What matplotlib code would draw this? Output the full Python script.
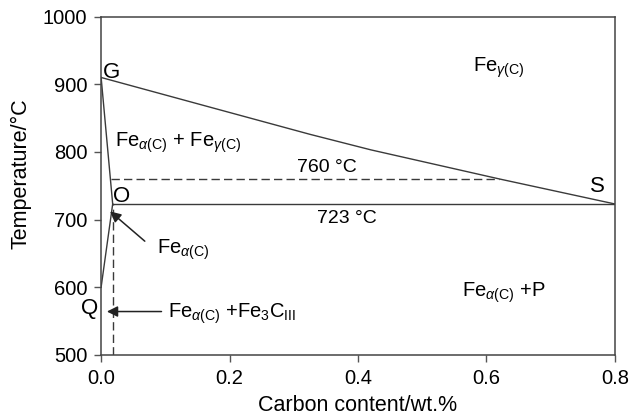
import matplotlib
matplotlib.use('Agg')
import matplotlib.pyplot as plt

# phase boundary points (carbon wt.%, temperature C)
gs_x = [0.0, 0.17, 0.325, 0.42, 0.62, 0.8]
gs_t = [910, 866, 826, 803, 760, 723]
go_x = [0.0, 0.018]
go_t = [910, 723]
oq_x = [0.018, 0.0]
oq_t = [723, 600]
eut_x = [0.018, 0.8]
eut_t = [723, 723]
a1_x = [0.016, 0.62]
a1_t = [760, 760]
sol_x = [0.018, 0.018]
sol_t = [500, 723]

xticks = [0.0, 0.2, 0.4, 0.6, 0.8]
xticklabels = ['0.0', '0.2', '0.4', '0.6', '0.8']
yticks = [500, 600, 700, 800, 900, 1000]

plt.rcParams['font.family'] = ['Liberation Sans', 'DejaVu Sans']
plt.rcParams['mathtext.fontset'] = 'custom'
plt.rcParams['mathtext.rm'] = 'Liberation Sans'
plt.rcParams['mathtext.it'] = 'Liberation Sans:italic'

line_col = '#3a3a3a'
fs = 14.5

fig = plt.figure(figsize=(6.32, 4.15), dpi=100)
ax = fig.add_axes([0.160, 0.145, 0.813, 0.815])

ax.plot(gs_x, gs_t, color=line_col, lw=1.0)
ax.plot(go_x, go_t, color=line_col, lw=1.0)
ax.plot(oq_x, oq_t, color=line_col, lw=1.0)
ax.plot(eut_x, eut_t, color=line_col, lw=1.0)
ax.plot(a1_x, a1_t, color=line_col, lw=1.0, ls=(0, (6, 3)))
ax.plot(sol_x, sol_t, color=line_col, lw=1.0, ls=(0, (6, 3)))

ax.set_xlim(0, 0.8)
ax.set_ylim(500, 1000)
ax.set_xticks(xticks)
ax.set_xticklabels(xticklabels)
ax.set_yticks(yticks)
ax.tick_params(direction='out', length=5, width=1, color='#555555', labelsize=fs, pad=5)
for s in ax.spines.values():
    s.set_color('#444444')
    s.set_linewidth(1.1)

ax.set_xlabel('Carbon content/wt.%', fontsize=15.5, labelpad=5)
ax.set_ylabel('Temperature/°C', fontsize=15.5)
ax.yaxis.set_label_coords(-0.135, 0.535)

# point labels
ax.text(0.003, 909, 'G', fontsize=16, va='baseline')
ax.text(0.019, 726, 'O', fontsize=16, va='baseline')
ax.text(0.761, 741, 'S', fontsize=16, va='baseline')
ax.text(-0.004, 560, 'Q', fontsize=16, va='baseline', ha='right')

# phase region labels
ax.text(0.579, 918, r'Fe$_{\gamma\mathrm{(C)}}$', fontsize=fs, va='baseline')
ax.text(0.022, 807, r'Fe$_{\alpha\mathrm{(C)}}$ + Fe$_{\gamma\mathrm{(C)}}$', fontsize=fs, va='baseline')
ax.text(0.352, 770, '760 °C', fontsize=14, va='baseline', ha='center')
ax.text(0.383, 695, '723 °C', fontsize=14, va='baseline', ha='center')
ax.text(0.562, 586, r'Fe$_{\alpha\mathrm{(C)}}$ +P', fontsize=fs, va='baseline')

arrow = dict(arrowstyle='-|>', color='#222222', lw=1.1, mutation_scale=16,
             shrinkA=0, shrinkB=0)
ax.annotate('', xy=(0.014, 712), xytext=(0.068, 668), arrowprops=arrow)
ax.text(0.087, 650, r'Fe$_{\alpha\mathrm{(C)}}$', fontsize=fs, va='baseline')
ax.annotate('', xy=(0.009, 564), xytext=(0.094, 564), arrowprops=arrow)
ax.text(0.104, 555, r'Fe$_{\alpha\mathrm{(C)}}$ +Fe$_3$C$_{\mathrm{III}}$', fontsize=fs, va='baseline')

fig.savefig('out.png', dpi=100)
